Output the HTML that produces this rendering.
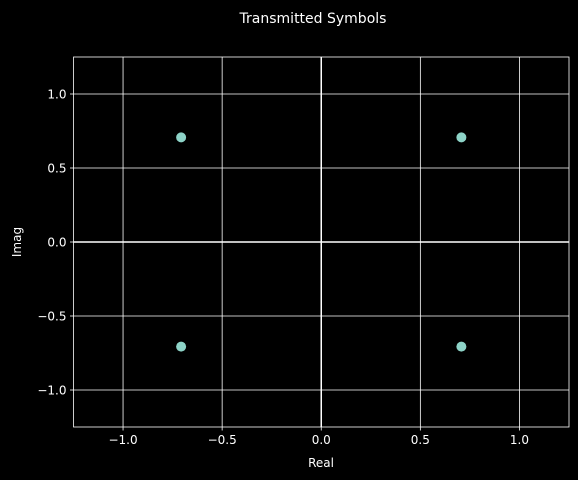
<!DOCTYPE html>
<html><head><meta charset="utf-8"><style>
html,body{margin:0;padding:0;background:#000;}
svg{display:block;font-family:"DejaVu Sans","Liberation Sans",sans-serif;}
</style></head><body>
<svg id="chart" width="578" height="480" viewBox="0 0 578 480">
<rect width="578" height="480" fill="#000"/>
<text x="313" y="23" fill="#fff" font-size="14" text-anchor="middle">Transmitted Symbols</text>
<g id="grid"></g>
<g id="axes"></g>
<g id="points"></g>
<text x="321" y="467" fill="#fff" font-size="12" text-anchor="middle">Real</text>
<text x="21" y="242" fill="#fff" font-size="12" text-anchor="middle" transform="rotate(-90 21 242)">Imag</text>
</svg>
<script>
const realValues = [0.707, -0.707, 0.707, -0.707];
const imagValues = [0.707, 0.707, -0.707, -0.707];
const xTicks = [-1.0, -0.5, 0.0, 0.5, 1.0];
const yTicks = [-1.0, -0.5, 0.0, 0.5, 1.0];
const xTickLabels = ["\u22121.0", "\u22120.5", "0.0", "0.5", "1.0"];
const yTickLabels = ["\u22121.0", "\u22120.5", "0.0", "0.5", "1.0"];
const L=73.5,R=569,T=57,B=427,xmin=-1.25,xmax=1.25,ymin=-1.25,ymax=1.25;
const sx=v=>L+(v-xmin)/(xmax-xmin)*(R-L);
const sy=v=>B-(v-ymin)/(ymax-ymin)*(B-T);
const NS="http://www.w3.org/2000/svg";
function mk(tag,attrs,parent){const e=document.createElementNS(NS,tag);for(const k in attrs)e.setAttribute(k,attrs[k]);parent.appendChild(e);return e;}
const grid=document.getElementById('grid'),axes=document.getElementById('axes'),pts=document.getElementById('points');
xTicks.forEach((v,i)=>{const x=sx(v);
 const g=mk('line',{x1:x,x2:x,y1:T,y2:B,stroke:'#fff','stroke-width':0.8},grid);
 
 
 const t=mk('line',{x1:x,x2:x,y1:B,y2:B+3.5,stroke:'#fff','stroke-width':0.8},axes);
 
 
 const l=mk('text',{x:x,y:B+17,fill:'#fff','font-size':12,'text-anchor':'middle'},axes);l.textContent=xTickLabels[i];
 
 
});
yTicks.forEach((v,i)=>{const y=sy(v);
 const g=mk('line',{x1:L,x2:R,y1:y,y2:y,stroke:'#fff','stroke-width':0.8},grid);
 
 
 const t=mk('line',{x1:L-3.5,x2:L,y1:y,y2:y,stroke:'#fff','stroke-width':0.8},axes);
 
 
 const l=mk('text',{x:L-7,y:y+4.5,fill:'#fff','font-size':12,'text-anchor':'end'},axes);l.textContent=yTickLabels[i];
 
 
});
const h=mk('line',{x1:L,x2:R,y1:sy(0),y2:sy(0),stroke:'#fff','stroke-width':1.5},axes);


const vl=mk('line',{x1:sx(0),x2:sx(0),y1:T,y2:B,stroke:'#fff','stroke-width':1.5},axes);


const fr=mk('rect',{x:L,y:T,width:R-L,height:B-T,fill:'none',stroke:'#fff','stroke-width':0.8},axes);


realValues.forEach((re,i)=>{
 const c=mk('circle',{cx:sx(re),cy:sy(imagValues[i]),r:5,fill:'#8dd3c7'},pts);
 
 
});
</script>
</body></html>
